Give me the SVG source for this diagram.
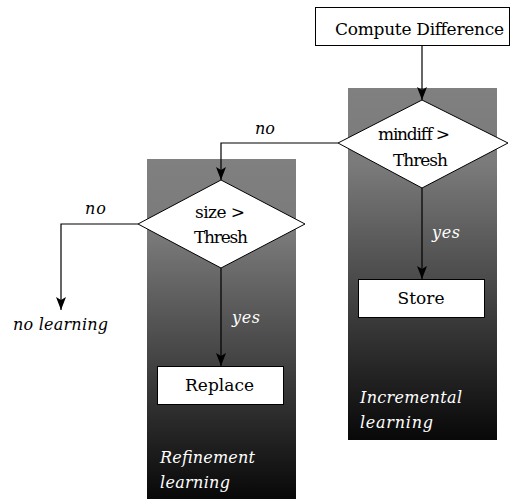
<svg xmlns="http://www.w3.org/2000/svg" width="520" height="499" viewBox="0 0 520 499">
<defs>
<linearGradient id="panelGrad" x1="0" y1="0" x2="0" y2="1">
<stop offset="0" stop-color="#808080"/>
<stop offset="0.22" stop-color="#7a7a7a"/>
<stop offset="1" stop-color="#080808"/>
</linearGradient>
<marker id="arrow" markerUnits="userSpaceOnUse" markerWidth="14" markerHeight="12" refX="13" refY="6" orient="auto">
<path d="M0,1 L13,6 L0,11 L3,6 z" fill="#000"/>
</marker>
<style>
.panel{fill:url(#panelGrad);}
.box{fill:#fff;stroke:#000;stroke-width:1;}
.lbl{font-family:"DejaVu Serif","Liberation Serif",serif;font-size:17px;fill:#000;}
.it{font-family:"DejaVu Serif","Liberation Serif",serif;font-size:16px;font-style:italic;}
.blk{fill:#000;}
.wht{fill:#fff;}
.conn{fill:none;stroke:#000;stroke-width:1.2;marker-end:url(#arrow);}
</style>
</defs>
<rect width="520" height="499" fill="#fff"/>
<g id="panel-incremental">
<rect class="panel" x="348" y="88" width="149" height="352"/>
<text class="it wht" x="360" y="403" textLength="102" lengthAdjust="spacing">Incremental</text>
<text class="it wht" x="360" y="428" textLength="73" lengthAdjust="spacing">learning</text>
</g>
<g id="panel-refinement">
<rect class="panel" x="147" y="159" width="149" height="340"/>
<text class="it wht" x="160" y="463" textLength="95" lengthAdjust="spacing">Refinement</text>
<text class="it wht" x="160" y="488" textLength="70" lengthAdjust="spacing">learning</text>
</g>
<g id="connectors">
<path class="conn" d="M422,45 V100"/>
<path class="conn" d="M338,143 H221 V180"/>
<path class="conn" d="M422,188 V279"/>
<path class="conn" d="M138,224 H61 V310"/>
<path class="conn" d="M221,268 V366"/>
<text class="it blk" x="255" y="134" textLength="20" lengthAdjust="spacing">no</text>
<text class="it blk" x="85" y="214" textLength="21" lengthAdjust="spacing">no</text>
<text class="it wht" x="432" y="238" textLength="28" lengthAdjust="spacing">yes</text>
<text class="it wht" x="232" y="323" textLength="28" lengthAdjust="spacing">yes</text>
</g>
<g id="compute-difference">
<rect class="box" x="315.5" y="7.5" width="194" height="38"/>
<text class="lbl" x="335" y="35" textLength="169" lengthAdjust="spacing">Compute Difference</text>
</g>
<g id="mindiff-thresh">
<polygon class="box" points="422,100 508,143 422,188 338,143"/>
<text class="lbl" x="378" y="140" textLength="72" lengthAdjust="spacing">mindiff &gt;</text>
<text class="lbl" x="393" y="166" textLength="55" lengthAdjust="spacing">Thresh</text>
</g>
<g id="size-thresh">
<polygon class="box" points="221,180 305,224 221,268 138,224"/>
<text class="lbl" x="195" y="218" textLength="50" lengthAdjust="spacing">size &gt;</text>
<text class="lbl" x="194" y="243" textLength="54" lengthAdjust="spacing">Thresh</text>
</g>
<g id="store">
<rect class="box" x="358.5" y="279.5" width="126" height="38"/>
<text class="lbl" x="421" y="304" text-anchor="middle">Store</text>
</g>
<g id="replace">
<rect class="box" x="157.5" y="366.5" width="126" height="38"/>
<text class="lbl" x="185" y="391" textLength="69" lengthAdjust="spacing">Replace</text>
</g>
<g id="no-learning">
<text class="it blk" x="13" y="330" textLength="95" lengthAdjust="spacing">no learning</text>
</g>
</svg>
